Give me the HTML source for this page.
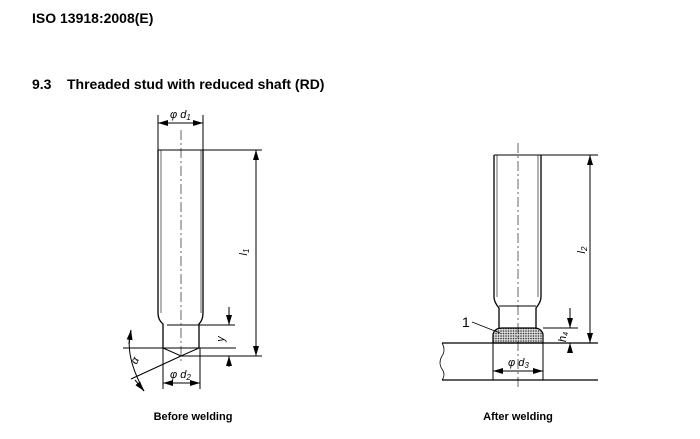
<!DOCTYPE html>
<html><head><style>
body{margin:0;width:700px;height:434px;background:#fff;overflow:hidden;font-family:"Liberation Sans",Arial,sans-serif}
</style></head><body>
<svg width="700" height="434" xmlns="http://www.w3.org/2000/svg" font-family="Liberation Sans, Arial, sans-serif">
<defs>
<marker id="a" viewBox="0 0 10 6" refX="10" refY="3" markerWidth="10" markerHeight="6" orient="auto-start-reverse" markerUnits="userSpaceOnUse"><path d="M0,0L10,3L0,6z" fill="#000"/></marker>
<pattern id="dots" width="2.5" height="2.5" patternUnits="userSpaceOnUse"><rect width="2.5" height="2.5" fill="#ddd"/><circle cx="1" cy="1" r="0.8" fill="#333"/></pattern>
</defs>
<text x="32" y="23" font-size="14" font-weight="bold">ISO 13918:2008(E)</text>
<text x="32" y="89" font-size="14" font-weight="bold">9.3</text>
<text x="67" y="89" font-size="14" font-weight="bold">Threaded stud with reduced shaft (RD)</text>
<text x="193" y="420" font-size="11" font-weight="bold" text-anchor="middle">Before welding</text>
<text x="518" y="420" font-size="11" font-weight="bold" text-anchor="middle">After welding</text>

<g stroke="#000" fill="none" stroke-width="1">
<!-- left stud -->
<path d="M158,150V313Q158,320 163,324V348M203,150V313Q203,320 199,324V348" stroke-width="1.3"/>
<path d="M161,150V313M201,150V313" stroke-width="0.6"/>
<line x1="158" y1="150" x2="262" y2="150"/>
<line x1="167" y1="325" x2="235" y2="325"/>
<line x1="123" y1="348" x2="236" y2="348"/>
<path d="M163,348L181,356L199,348"/>
<line x1="181" y1="356" x2="262" y2="356"/>
<line x1="181" y1="130" x2="181" y2="362" stroke-dasharray="10,3,2,3" stroke-width="0.6"/>
<line x1="256" y1="150" x2="256" y2="356" marker-start="url(#a)" marker-end="url(#a)"/>
<line x1="229" y1="307" x2="229" y2="325" marker-end="url(#a)"/>
<line x1="229" y1="367" x2="229" y2="356" marker-end="url(#a)"/>
<line x1="158" y1="115" x2="158" y2="150"/><line x1="203" y1="115" x2="203" y2="150"/>
<line x1="158" y1="123" x2="203" y2="123" marker-start="url(#a)" marker-end="url(#a)"/>
<line x1="163" y1="348" x2="163" y2="389"/><line x1="200" y1="348" x2="200" y2="389"/>
<line x1="163" y1="383" x2="200" y2="383" marker-start="url(#a)" marker-end="url(#a)"/>
<line x1="181" y1="356" x2="131" y2="379"/>
<path d="M131,330Q124,355 144,391"/>
<line x1="131" y1="330" x2="129" y2="344" marker-start="url(#a)"/>
<line x1="144" y1="391" x2="135" y2="380" marker-start="url(#a)"/>

<!-- right stud -->
<path d="M494,155V297Q494,302 499,308V328M541,155V297Q541,302 536,308V328" stroke-width="1.3"/>
<path d="M497,155V297M538,155V297" stroke-width="0.6"/>
<line x1="494" y1="155" x2="598" y2="155"/>
<line x1="499" y1="306" x2="536" y2="306"/>
<path d="M493,343V334Q495,328 502,328H534Q541,328 543,334V343Z" fill="url(#dots)" stroke-width="1.2"/>
<path d="M442,343H598M442,380H598" stroke-width="1.3"/>
<path d="M442,343 Q446,350 442,356 Q438,363 442,369 Q446,375 442,380" stroke-width="0.8"/>
<line x1="518" y1="143" x2="518" y2="390" stroke-dasharray="10,3,2,3" stroke-width="0.6"/>
<line x1="590" y1="155" x2="590" y2="343" marker-start="url(#a)" marker-end="url(#a)"/>
<line x1="543" y1="328" x2="578" y2="328"/>
<line x1="570" y1="308" x2="570" y2="328" marker-end="url(#a)"/>
<line x1="570" y1="353" x2="570" y2="343" marker-end="url(#a)"/>
<line x1="493" y1="343" x2="493" y2="380"/><line x1="543" y1="343" x2="543" y2="380"/>
<line x1="493" y1="371" x2="543" y2="371" marker-start="url(#a)" marker-end="url(#a)"/>
<line x1="472" y1="322" x2="500" y2="333" stroke-width="0.9"/>
</g>
<g font-size="11" font-style="italic">
<text x="170" y="118">φ d<tspan font-size="8" dy="2">1</tspan></text>
<text x="170" y="378">φ d<tspan font-size="8" dy="2">2</tspan></text>
<text x="508" y="366">φ d<tspan font-size="8" dy="2">3</tspan></text>
<text transform="translate(247,252) rotate(-90)" text-anchor="middle">l<tspan font-size="8" dy="2">1</tspan></text>
<text transform="translate(585,250) rotate(-90)" text-anchor="middle">l<tspan font-size="8" dy="2">2</tspan></text>
<text transform="translate(224,339) rotate(-90)" text-anchor="middle">y</text>
<text transform="translate(566,337) rotate(-90)" text-anchor="middle">h<tspan font-size="7" dy="2">4</tspan></text>
<text transform="translate(138,362) rotate(-65)" text-anchor="middle">α</text>
</g>
<text x="462" y="327" font-size="14">1</text>
</svg>
</body></html>
